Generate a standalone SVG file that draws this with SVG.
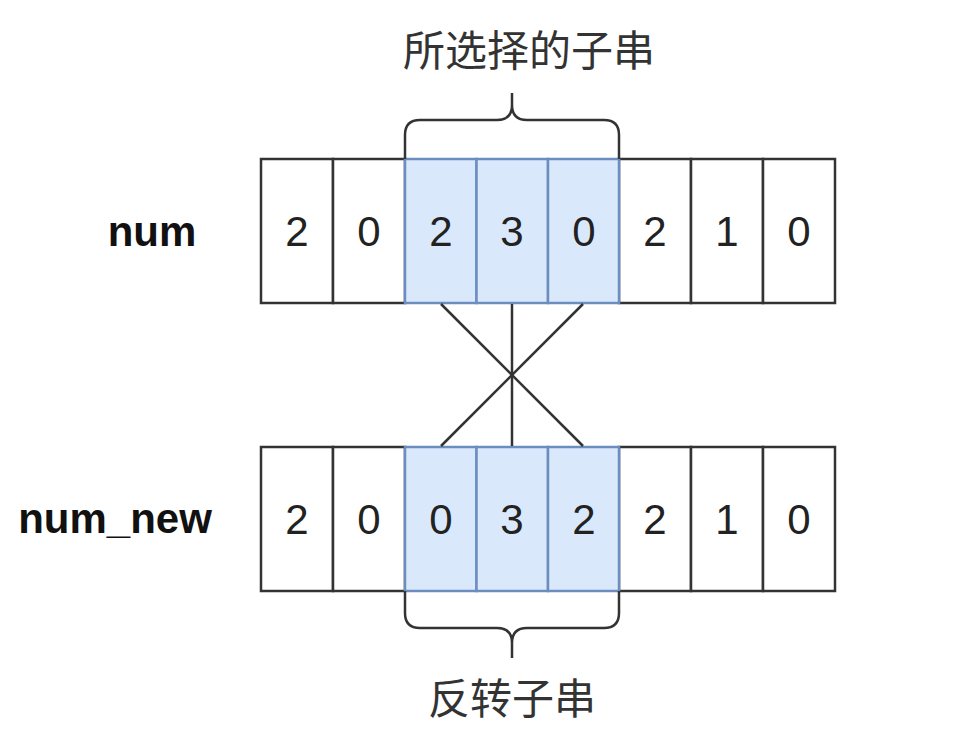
<svg xmlns="http://www.w3.org/2000/svg" width="978" height="732" viewBox="0 0 978 732">
<style>
.cell{fill:#ffffff;stroke:#333333;stroke-width:2.5}
.sel{fill:#dae8fc;stroke:#6c8ebf;stroke-width:2.5}
.d{font-family:"Liberation Sans",Arial,sans-serif;font-size:42px;fill:#222222;text-anchor:middle}
.lbl{font-family:"Liberation Sans",Arial,sans-serif;font-size:42px;font-weight:bold;fill:#111111;text-anchor:middle}
.cjk{font-family:"Liberation Sans","Noto Sans CJK SC",sans-serif;font-size:42px;fill:#333333;text-anchor:middle}
.ln{fill:none;stroke:#333333;stroke-width:2.5}
</style>
<rect width="978" height="732" fill="#ffffff"/>
<g id="label-num"><text class="lbl" x="152" y="246">num</text></g>
<g id="label-num-new"><text class="lbl" x="115" y="533">num_new</text></g>
<g id="row-num">
<g id="n0"><rect class="cell" x="261" y="159" width="72" height="144"/><text class="d" x="297" y="246">2</text></g>
<g id="n1"><rect class="cell" x="333" y="159" width="72" height="144"/><text class="d" x="369" y="246">0</text></g>
<g id="n5"><rect class="cell" x="619" y="159" width="72" height="144"/><text class="d" x="655" y="246">2</text></g>
<g id="n6"><rect class="cell" x="691" y="159" width="72" height="144"/><text class="d" x="727" y="246">1</text></g>
<g id="n7"><rect class="cell" x="763" y="159" width="72" height="144"/><text class="d" x="799" y="246">0</text></g>
<g id="n2"><rect class="sel" x="405" y="159" width="71.5" height="144"/><text class="d" x="441" y="246">2</text></g>
<g id="n3"><rect class="sel" x="476.5" y="159" width="71.5" height="144"/><text class="d" x="512" y="246">3</text></g>
<g id="n4"><rect class="sel" x="548" y="159" width="71" height="144"/><text class="d" x="584" y="246">0</text></g>
</g>
<g id="row-num-new">
<g id="m0"><rect class="cell" x="261" y="447" width="72" height="144"/><text class="d" x="297" y="534">2</text></g>
<g id="m1"><rect class="cell" x="333" y="447" width="72" height="144"/><text class="d" x="369" y="534">0</text></g>
<g id="m5"><rect class="cell" x="619" y="447" width="72" height="144"/><text class="d" x="655" y="534">2</text></g>
<g id="m6"><rect class="cell" x="691" y="447" width="72" height="144"/><text class="d" x="727" y="534">1</text></g>
<g id="m7"><rect class="cell" x="763" y="447" width="72" height="144"/><text class="d" x="799" y="534">0</text></g>
<g id="m2"><rect class="sel" x="405" y="447" width="71.5" height="144"/><text class="d" x="441" y="534">0</text></g>
<g id="m3"><rect class="sel" x="476.5" y="447" width="71.5" height="144"/><text class="d" x="512" y="534">3</text></g>
<g id="m4"><rect class="sel" x="548" y="447" width="71" height="144"/><text class="d" x="584" y="534">2</text></g>
</g>
<g id="brace-top">
<path class="ln" d="M405,159 L405,135 Q405,120 420,120 L497,120 Q512,120 512,105 L512,93 M512,105 Q512,120 527,120 L604,120 Q619,120 619,135 L619,159"/>
<text class="cjk" x="529" y="66">所选择的子串</text>
</g>
<g id="brace-bottom">
<path class="ln" d="M405,591 L405,613 Q405,628 420,628 L497,628 Q512,628 512,643 L512,658 M512,643 Q512,628 527,628 L604,628 Q619,628 619,613 L619,591"/>
<text class="cjk" x="512" y="714">反转子串</text>
</g>
<g id="connectors">
<line class="ln" x1="441" y1="304" x2="583" y2="446"/>
<line class="ln" x1="583" y1="304" x2="441" y2="446"/>
<line class="ln" x1="512" y1="304" x2="512" y2="446"/>
</g>
</svg>
